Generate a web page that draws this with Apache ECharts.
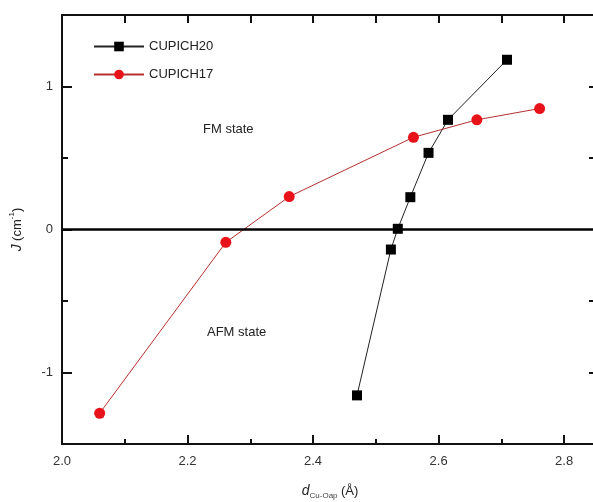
<!DOCTYPE html>
<html>
<head>
<meta charset="utf-8">
<script src="https://cdn.jsdelivr.net/npm/echarts@6/dist/echarts.min.js"></script>
<style>
html, body { margin: 0; padding: 0; background: #fff; }
#chart { width: 593px; height: 502px; }
</style>
</head>
<body>
<div id="chart"></div>
<script>
// values
var cupich20X = [2.470, 2.524, 2.535, 2.555, 2.584, 2.615, 2.709];
var cupich20Y = [-1.16, -0.14, 0.005, 0.226, 0.536, 0.767, 1.187];
var cupich17X = [2.060, 2.261, 2.362, 2.560, 2.661, 2.761];
var cupich17Y = [-1.285, -0.09, 0.23, 0.645, 0.767, 0.846];

var xMajorTicks = [2.0, 2.2, 2.4, 2.6, 2.8];
var xMinorTicks = [2.1, 2.3, 2.5, 2.7];
var xAllTicks = [2.1, 2.2, 2.3, 2.4, 2.5, 2.6, 2.7, 2.8];
var yMajorTicks = [-1, 0, 1];
var yMinorTicks = [-0.5, 0.5];

var pairs = function (xs, ys) {
	return xs.map(function (x, i) { return [x, ys[i]]; });
};

var font = 'Liberation Sans, Arial, sans-serif';
var axisLineStyle = { color: '#111', width: 2 };

var baseX = {
	type: 'value', min: 2.0, max: 2.854,
	splitLine: { show: false }
};
var baseY = {
	type: 'value', min: -1.5, max: 1.5,
	splitLine: { show: false }
};

var option = {
	animation: false,
	backgroundColor: '#fff',
	grid: { left: 62, top: 15, width: 536, height: 429, outerBoundsMode: 'none' },
	legend: {
		orient: 'vertical',
		left: 88, top: 35,
		itemWidth: 50, itemHeight: 12, itemGap: 15,
		textStyle: { fontFamily: font, fontSize: 13, color: '#222' },
		data: ['CUPICH20', 'CUPICH17']
	},
	xAxis: [
		Object.assign({}, baseX, {
			position: 'bottom',
			axisLine: { onZero: false, lineStyle: axisLineStyle },
			axisTick: { inside: true, length: 9, customValues: xMajorTicks, lineStyle: axisLineStyle },
			axisLabel: {
				customValues: xMajorTicks, margin: 11,
				fontFamily: font, fontSize: 13, color: '#333',
				formatter: function (v) { return v.toFixed(1); }
			},
			name: '{d|d}{sub|Cu-Oap} {u|(Å)}',
			nameLocation: 'middle', nameGap: 38,
			nameTextStyle: {
				rich: {
					d: { fontFamily: font, fontSize: 14, fontStyle: 'italic', color: '#222' },
					sub: { fontFamily: font, fontSize: 8, color: '#444', padding: [10, 0, 0, 0] },
					u: { fontFamily: font, fontSize: 13, color: '#222' }
				}
			}
		}),
		Object.assign({}, baseX, {
			position: 'bottom',
			axisLine: { show: false, onZero: false },
			axisTick: { inside: true, length: 5, customValues: xMinorTicks, lineStyle: axisLineStyle },
			axisLabel: { show: false }
		}),
		Object.assign({}, baseX, {
			position: 'top',
			axisLine: { onZero: false, lineStyle: axisLineStyle },
			axisTick: { inside: true, length: 8, customValues: xAllTicks, lineStyle: axisLineStyle },
			axisLabel: { show: false }
		})
	],
	yAxis: [
		Object.assign({}, baseY, {
			position: 'left',
			axisLine: { onZero: false, lineStyle: axisLineStyle },
			axisTick: { inside: true, length: 10, customValues: yMajorTicks, lineStyle: axisLineStyle },
			axisLabel: {
				customValues: yMajorTicks, margin: 9,
				fontFamily: font, fontSize: 13, color: '#333'
			},
			name: '{j|J} {u|(cm}{sup|-1}{u|)}',
			nameLocation: 'middle', nameGap: 36, nameRotate: 90,
			nameTextStyle: {
				rich: {
					j: { fontFamily: font, fontSize: 14, fontStyle: 'italic', color: '#222' },
					u: { fontFamily: font, fontSize: 13, color: '#222' },
					sup: { fontFamily: font, fontSize: 8, color: '#222', padding: [0, 0, 10, 0] }
				}
			}
		}),
		Object.assign({}, baseY, {
			position: 'left',
			axisLine: { show: false, onZero: false },
			axisTick: { inside: true, length: 6, customValues: yMinorTicks, lineStyle: axisLineStyle },
			axisLabel: { show: false }
		}),
		Object.assign({}, baseY, {
			position: 'right',
			axisLine: { onZero: false, lineStyle: axisLineStyle },
			axisTick: { inside: true, length: 9, customValues: [-1, -0.5, 0.5, 1], lineStyle: axisLineStyle },
			axisLabel: { show: false }
		})
	],
	graphic: [
		{ type: 'text', left: 203, top: 123, style: { text: 'FM state', font: '13px ' + font, fill: '#222' } },
		{ type: 'text', left: 207, top: 326, style: { text: 'AFM state', font: '13px ' + font, fill: '#222' } }
	],
	series: [
		{
			name: 'CUPICH20',
			type: 'line',
			data: pairs(cupich20X, cupich20Y),
			symbol: 'rect', symbolSize: 10,
			itemStyle: { color: '#000' },
			lineStyle: { color: '#222', width: 1 },
			z: 3,
			markLine: {
				silent: true, symbol: 'none',
				label: { show: false },
				lineStyle: { color: '#000', width: 2.5, type: 'solid' },
				data: [{ yAxis: 0 }]
			}
		},
		{
			name: 'CUPICH17',
			type: 'line',
			data: pairs(cupich17X, cupich17Y),
			symbol: 'circle', symbolSize: 11,
			itemStyle: { color: '#e8121a' },
			lineStyle: { color: '#b5302f', width: 1 },
			z: 4
		}
	]
};

echarts.init(document.getElementById('chart')).setOption(option);
</script>
</body>
</html>
